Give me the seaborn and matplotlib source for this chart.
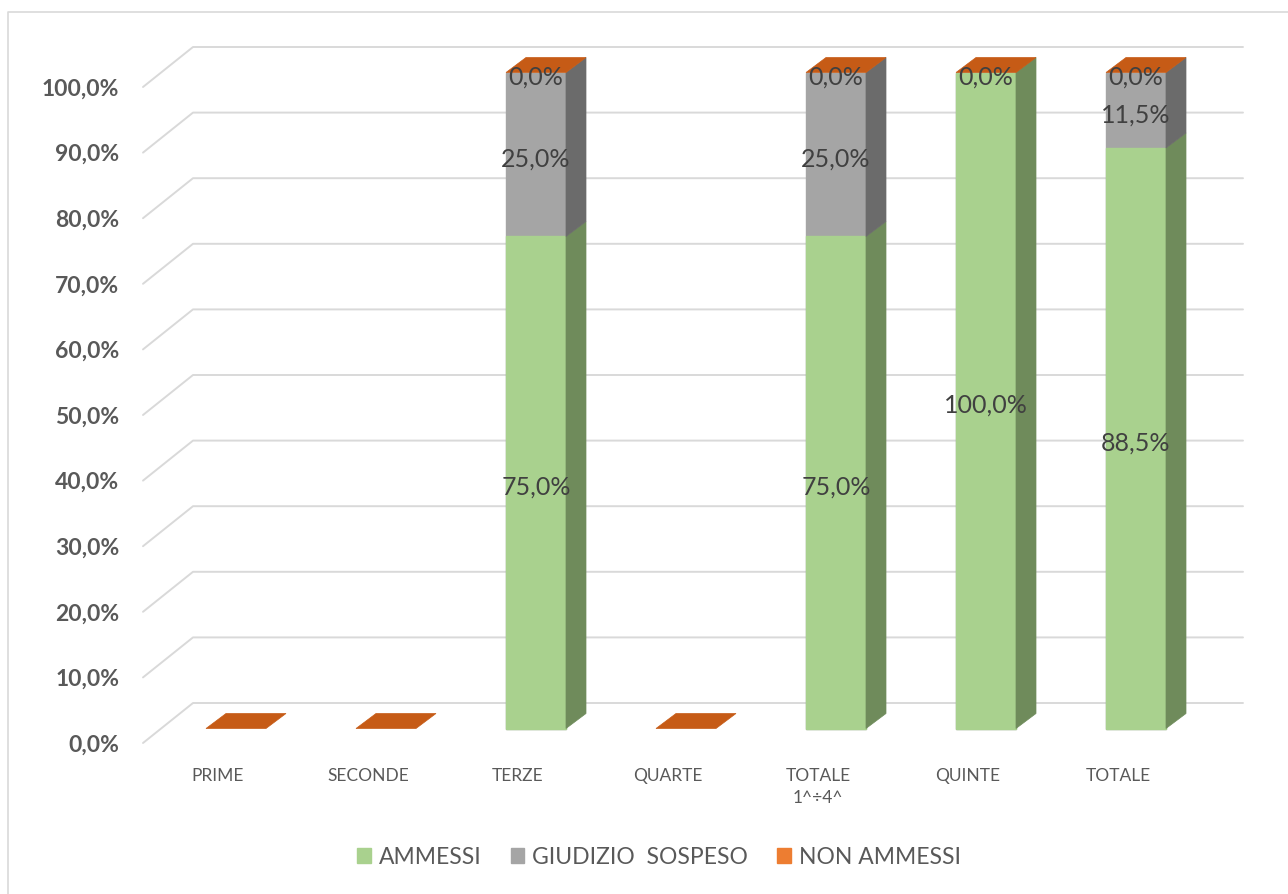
import numpy as np
import pandas as pd
import seaborn as sns
import matplotlib
matplotlib.use("Agg")
import matplotlib.pyplot as plt
from matplotlib.patches import Polygon, Patch
from matplotlib.lines import Line2D
from matplotlib.transforms import ScaledTranslation, IdentityTransform

# ---------------- data ----------------
categories = ["PRIME", "SECONDE", "TERZE", "QUARTE", "TOTALE\n1^÷4^", "QUINTE", "TOTALE"]
ammessi = [np.nan, np.nan, 75.0, np.nan, 75.0, 100.0, 88.5]
giudizio_sospeso = [np.nan, np.nan, 25.0, np.nan, 25.0, 0.0, 11.5]
non_ammessi = [0.0, 0.0, 0.0, 0.0, 0.0, 0.0, 0.0]
series_names = ["AMMESSI", "GIUDIZIO  SOSPESO", "NON AMMESSI"]
y_ticks = [0, 10, 20, 30, 40, 50, 60, 70, 80, 90, 100]

# ---------------- style ----------------
sns.set_theme(style="white")
plt.rcParams["font.family"] = ["Lato", "DejaVu Sans"]

front_cols = ["#A9D18E", "#A5A5A5", "#ED7D31"]
side_cols = ["#6F8B5B", "#6B6B6B", "#B0541A"]
top_col = "#C65B16"
legend_cols = ["#A9D18E", "#A5A5A5", "#ED7D31"]
grid_col = "#D9D9D9"
text_col = "#595959"
label_col = "#404040"

W, H = 1288, 894
DPI = 100
fig = plt.figure(figsize=(W / DPI, H / DPI), dpi=DPI)
fig.patch.set_facecolor("white")
ax = fig.add_axes([143 / W, (H - 743) / H, 1050 / W, 656 / H])
ax.set_facecolor("none")

# pixel offsets of the 3-D planes relative to the front plane
bar_dx, bar_dy = 18, 14.5      # bar front faces
depth_dx, depth_dy = 20, 15    # bar depth
back_dx, back_dy = 50, 40      # back wall
bar_off = ScaledTranslation(bar_dx / DPI, bar_dy / DPI, fig.dpi_scale_trans)
lab_off = ScaledTranslation(bar_dx / DPI, (bar_dy - 4.5) / DPI, fig.dpi_scale_trans)
bar_width = 0.4

# ---------------- stacked segments ----------------
a = np.array(ammessi, dtype=float)
g = np.array(giudizio_sospeso, dtype=float)
n = np.array(non_ammessi, dtype=float)
c1 = np.nan_to_num(a)
c2 = c1 + np.nan_to_num(g)
c3 = c2 + np.nan_to_num(n)

# front faces through seaborn (tallest first, overlaid)
layers = [
    (c3, front_cols[2], 0.0),
    (np.where(np.isnan(a) & np.isnan(g), np.nan, c2), front_cols[1], 1.0),
    (a, front_cols[0], 1.0),
]
for vals, col, lw in layers:
    df = pd.DataFrame({"cat": categories, "val": vals})
    sns.barplot(data=df, x="cat", y="val", order=categories, color=col,
                saturation=1, width=bar_width, errorbar=None, ax=ax,
                linewidth=lw, edgecolor=col)
for p in ax.patches:
    p.set_transform(ax.transData + bar_off)
    p.set_clip_on(False)
    p.set_zorder(3)

ax.set_xlim(-0.5, len(categories) - 0.5)
ax.set_ylim(0, 100)

def disp(x, y, dx=0.0, dy=0.0):
    px, py = ax.transData.transform((x, y))
    return (px + dx, py + dy)

# side faces
segments = [(np.zeros(len(categories)), c1, side_cols[0]),
            (c1, c2, side_cols[1]),
            (c2, c3, side_cols[2])]
for i in range(len(categories)):
    xr = i + bar_width / 2
    for y0s, y1s, col in segments:
        y0, y1 = y0s[i], y1s[i]
        if y1 - y0 <= 0:
            continue
        pts = [disp(xr, y0, bar_dx, bar_dy), disp(xr, y1, bar_dx, bar_dy),
               disp(xr, y1, bar_dx + depth_dx, bar_dy + depth_dy),
               disp(xr, y0, bar_dx + depth_dx, bar_dy + depth_dy)]
        ax.add_patch(Polygon(pts, closed=True, facecolor=col, edgecolor=col,
                             lw=0.5, transform=IdentityTransform(),
                             zorder=3, clip_on=False))
    # top face of the stack (NON AMMESSI on top)
    xl = i - bar_width / 2
    yt = c3[i]
    pts = [disp(xl, yt, bar_dx, bar_dy), disp(xr, yt, bar_dx, bar_dy),
           disp(xr, yt, bar_dx + depth_dx, bar_dy + depth_dy),
           disp(xl, yt, bar_dx + depth_dx, bar_dy + depth_dy)]
    ax.add_patch(Polygon(pts, closed=True, facecolor=top_col, edgecolor=top_col,
                         lw=0.5, transform=IdentityTransform(),
                         zorder=3.5, clip_on=False))

# ---------------- back wall grid ----------------
x0, x1 = ax.get_xlim()
for v in y_ticks:
    fx, fy = disp(x0, v)
    bx, by = disp(x0, v, back_dx, back_dy)
    ex, ey = disp(x1, v, back_dx, back_dy)
    ax.add_line(Line2D([fx, bx, ex], [fy, by, ey], color=grid_col, lw=1.4,
                       transform=IdentityTransform(), zorder=0.5, clip_on=False))

# ---------------- data labels ----------------
def fmt(v):
    return f"{v:.1f}".replace(".", ",") + "%"

for i in range(len(categories)):
    if np.isnan(a[i]) and np.isnan(g[i]):
        continue
    entries = [(0, c1[i], a[i]), (c1[i], c2[i], g[i]), (c2[i], c3[i], n[i])]
    for k, (y0, y1, v) in enumerate(entries):
        if np.isnan(v):
            continue
        if k == 1 and v == 0:
            continue
        ax.text(i, (y0 + y1) / 2, fmt(v), ha="center", va="center",
                fontsize=18, color=label_col, transform=ax.transData + lab_off,
                zorder=5)

# ---------------- axes ----------------
for s in ax.spines.values():
    s.set_visible(False)
ax.set_xlabel("")
ax.set_ylabel("")
ax.set_yticks(y_ticks)
ax.set_yticklabels([fmt(v) for v in y_ticks], fontweight="bold")
ax.set_xticks(range(len(categories)))
ax.set_xticklabels(categories, linespacing=1.45)
ax.tick_params(axis="y", length=0, pad=17, labelsize=16.5, labelcolor=text_col)
ax.tick_params(axis="x", length=0, pad=18, labelsize=12.5, labelcolor=text_col)
ax.grid(False)

# ---------------- legend ----------------
handles = [Patch(facecolor=c, edgecolor=c) for c in legend_cols]
fig.legend(handles, series_names, loc="center", bbox_to_anchor=(659 / W, 1 - 857 / H),
           ncol=3, frameon=False, fontsize=16.5, handlelength=0.6, handleheight=0.6,
           handletextpad=0.35, columnspacing=1.25, labelcolor=text_col)

# chart border (top and left edges visible in the crop)
fig.add_artist(Line2D([8 / W, 8 / W, 1.0], [0.0, 1 - 12 / H, 1 - 12 / H],
                      transform=fig.transFigure, color="#D9D9D9", lw=1.2))

fig.savefig("out.png", dpi=DPI)
